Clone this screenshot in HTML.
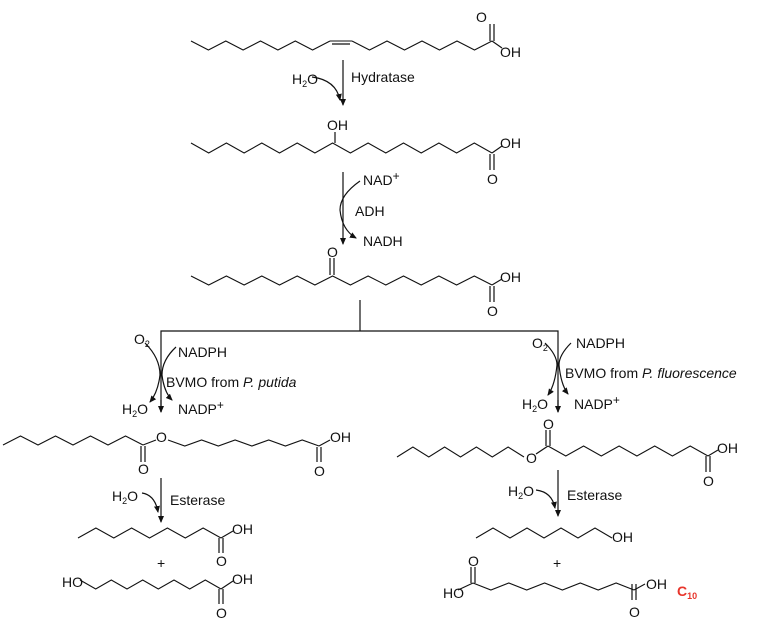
<!DOCTYPE html>
<html><head><meta charset="utf-8"><style>
body{margin:0;background:#fff}
svg{display:block}
text{font-family:"Liberation Sans",Arial,sans-serif;font-size:14px;fill:#111}
.s{font-size:9px}
</style></head><body>
<svg id="g" width="774" height="632" viewBox="0 0 774 632" xmlns="http://www.w3.org/2000/svg">
<defs><marker id="ah" markerWidth="8" markerHeight="8" refX="6" refY="4" orient="auto" markerUnits="userSpaceOnUse"><path d="M0,1 L7,4 L0,7 Z" fill="#111"/></marker></defs>
<g stroke="#111" stroke-width="1.2" fill="none" id="L">
<line x1="343" y1="60" x2="343" y2="105" marker-end="url(#ah)"/>
<path d="M312,77 Q336,80 340,100" marker-end="url(#ah)"/>
<line x1="343" y1="172" x2="343" y2="244" marker-end="url(#ah)"/>
<path d="M360,181 Q340,195 340,210 Q342,230 356,238" marker-end="url(#ah)"/>
<line x1="360" y1="300" x2="360" y2="331"/>
<polyline points="161,412 161,331 558,331 558,412"/>
<line x1="161" y1="400" x2="161" y2="412" marker-end="url(#ah)"/>
<path d="M145,343 Q160,358 160,375 Q158,392 150,402" marker-end="url(#ah)"/>
<path d="M176,347 Q162,360 162,375 Q164,392 172,400" marker-end="url(#ah)"/>
<line x1="558" y1="400" x2="558" y2="412" marker-end="url(#ah)"/>
<path d="M545,343 Q557,355 557,365 Q555,385 548,395" marker-end="url(#ah)"/>
<path d="M571,343 Q559,355 559,365 Q561,385 568,394" marker-end="url(#ah)"/>
<line x1="161" y1="478" x2="161" y2="522" marker-end="url(#ah)"/>
<path d="M142,493 Q155,495 158,512" marker-end="url(#ah)"/>
<line x1="558" y1="470" x2="558" y2="516" marker-end="url(#ah)"/>
<path d="M536,490 Q552,492 555,508" marker-end="url(#ah)"/>
<path d="M490,24 V41 M494,24 V41"/>
<path d="M490,154 V170 M494,154 V170"/>
<path d="M330,258 V275 M334,258 V275"/>
<path d="M490,286 V302 M494,286 V302"/>
<path d="M141,446 V462 M145,446 V462"/>
<path d="M317,447 V462 M321,447 V462"/>
<path d="M219,538 V553 M223,538 V553"/>
<path d="M219,589 V604 M223,589 V604"/>
<path d="M546,430 V446 M550,430 V446"/>
<path d="M706,456 V472 M710,456 V472"/>
<path d="M471,567 V583 M475,567 V583"/>
<path d="M632,584 V600 M636,584 V600"/>
<line x1="335" y1="132" x2="335" y2="143"/>
<line x1="332" y1="44" x2="350" y2="44"/>
<line x1="536" y1="454" x2="548" y2="446"/>
</g>
<g fill="none" stroke="#111" stroke-width="1.1" id="Z"></g>
<text x="476" y="22">O</text><text x="500" y="57">OH</text>
<text x="292" y="84">H<tspan class="s" dy="3">2</tspan><tspan dy="-3">O</tspan></text>
<text x="351" y="82">Hydratase</text>
<text x="327" y="130">OH</text>
<text x="500" y="148">OH</text><text x="487" y="184">O</text>
<text x="363" y="185">NAD<tspan dy="-5" font-size="12">+</tspan></text>
<text x="355" y="216">ADH</text>
<text x="363" y="246">NADH</text>
<text x="327" y="257">O</text>
<text x="500" y="282">OH</text><text x="487" y="316">O</text>
<text x="134" y="344">O<tspan class="s" dy="3">2</tspan></text>
<text x="178" y="357">NADPH</text>
<text x="166" y="387">BVMO from <tspan font-style="italic">P. putida</tspan></text>
<text x="122" y="414">H<tspan class="s" dy="3">2</tspan><tspan dy="-3">O</tspan></text>
<text x="178" y="414">NADP<tspan dy="-5" font-size="12">+</tspan></text>
<text x="138" y="474">O</text><text x="156" y="442">O</text>
<text x="314" y="476">O</text><text x="330" y="442">OH</text>
<text x="112" y="501">H<tspan class="s" dy="3">2</tspan><tspan dy="-3">O</tspan></text>
<text x="170" y="505">Esterase</text>
<text x="232" y="534">OH</text><text x="216" y="566">O</text>
<text x="157" y="568" font-size="12">+</text>
<text x="62" y="587">HO</text>
<text x="232" y="584">OH</text><text x="216" y="618">O</text>
<text x="532" y="348">O<tspan class="s" dy="3">2</tspan></text>
<text x="576" y="348">NADPH</text>
<text x="565" y="378">BVMO from <tspan font-style="italic">P. fluorescence</tspan></text>
<text x="522" y="409">H<tspan class="s" dy="3">2</tspan><tspan dy="-3">O</tspan></text>
<text x="574" y="409">NADP<tspan dy="-5" font-size="12">+</tspan></text>
<text x="543" y="429">O</text><text x="526" y="463">O</text>
<text x="717" y="453">OH</text><text x="703" y="486">O</text>
<text x="508" y="496">H<tspan class="s" dy="3">2</tspan><tspan dy="-3">O</tspan></text>
<text x="567" y="500">Esterase</text>
<text x="612" y="542">OH</text>
<text x="553" y="568" font-size="12">+</text>
<text x="443" y="598">HO</text><text x="468" y="566">O</text>
<text x="646" y="589">OH</text><text x="629" y="617">O</text>
<text x="677" y="596" style="fill:#e8352b;font-size:14px;font-weight:bold">C<tspan style="fill:#e8352b;font-size:9px" dy="3">10</tspan></text>
</svg>
<script>
var Z=document.getElementById('Z');
function zz(x0,x1,n,y0,y1){var p=[];for(var i=0;i<=n;i++){p.push((x0+(x1-x0)*i/n).toFixed(1)+','+(i%2?y1:y0));}
var e=document.createElementNS('http://www.w3.org/2000/svg','polyline');e.setAttribute('points',p.join(' '));Z.appendChild(e);}
zz(191,330,8,41,50); zz(330,352,1,41,41); zz(352,492,8,41,50); zz(492,502,1,41,48);
zz(191,492,17,143,153); zz(492,502,1,153,146);
zz(191,492,17,276,285); zz(492,502,1,285,279);
zz(3,143,8,445,436); zz(143,156,1,445,440);
zz(168,319,9,440,446); zz(319,330,1,446,440);
zz(78,221,8,538,528); zz(221,233,1,538,531);
zz(80,221,9,580,589); zz(221,233,1,589,581);
zz(397,524,8,457,447);
zz(548,708,9,446,456); zz(708,718,1,456,450);
zz(476,612,8,538,528);
zz(458,473,1,590,583); zz(473,634,9,583,590); zz(634,645,1,590,584);
</script>
</body></html>
